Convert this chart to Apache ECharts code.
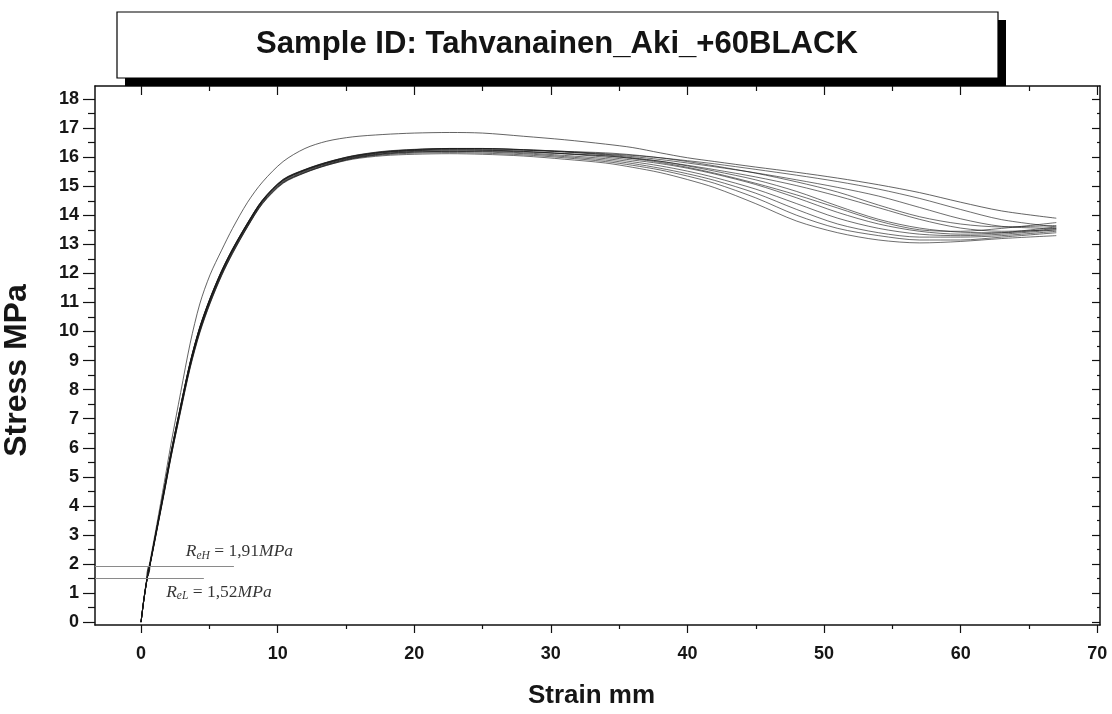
<!DOCTYPE html>
<html>
<head>
<meta charset="utf-8">
<script src="https://cdn.jsdelivr.net/npm/echarts@6/dist/echarts.min.js"></script>
<style>html,body{margin:0;padding:0;background:#fff;}#c{width:1112px;height:714px;}</style>
</head>
<body>
<div id="c"></div>
<script>
// ---- data ----
var TITLE = 'Sample ID: Tahvanainen_Aki_+60BLACK';
var X_LABEL = 'Strain mm';
var Y_LABEL = 'Stress MPa';
var xMajor = [0, 10, 20, 30, 40, 50, 60, 70];
var xMinor = [5, 15, 25, 35, 45, 55, 65];
var yMajor = [0,1,2,3,4,5,6,7,8,9,10,11,12,13,14,15,16,17,18];
var yMinor = [0.5,1.5,2.5,3.5,4.5,5.5,6.5,7.5,8.5,9.5,10.5,11.5,12.5,13.5,14.5,15.5,16.5,17.5];
var strain = [0, 0.2, 0.45, 0.65, 1.15, 1.7, 2.2, 2.9, 3.6, 4.3, 5.05, 5.9, 6.7, 7.8, 8.9, 10.4, 12, 13.6, 15.5,
              17.7, 20, 22.6, 25, 28, 31, 34, 36, 38, 40, 42, 45, 48, 51, 54, 57, 60, 63, 67];
var outer = [0,0.78,1.58,2.08,3.35,4.8,6.15,7.9,9.6,10.95,11.95,12.8,13.55,14.45,15.15,15.85,16.3,16.55,16.7,
             16.78,16.83,16.85,16.83,16.72,16.6,16.45,16.33,16.15,15.98,15.85,15.66,15.48,15.28,15.05,14.78,14.45,14.15,13.9];
var c1  = [0,0.76,1.53,2.0,3.24,4.6,5.86,7.46,8.96,10.16,11.15,12.1,12.85,13.74,14.54,15.24,15.58,15.83,16.05,
           16.2,16.27,16.3,16.3,16.26,16.2,16.12,16.06,15.98,15.88,15.77,15.58,15.38,15.16,14.9,14.58,14.2,13.85,13.6];
var c2  = [0,0.75,1.52,1.98,3.2,4.55,5.8,7.4,8.9,10.1,11.1,12.05,12.8,13.7,14.5,15.2,15.55,15.8,16.02,
           16.17,16.24,16.28,16.27,16.24,16.18,16.1,16.02,15.92,15.8,15.67,15.46,15.22,14.96,14.66,14.27,13.88,13.62,13.55];
var c3  = [0,0.74,1.5,1.95,3.15,4.48,5.72,7.3,8.8,10.0,11.0,11.96,12.72,13.62,14.43,15.13,15.48,15.74,15.97,
           16.12,16.2,16.22,16.22,16.18,16.12,16.04,15.96,15.86,15.72,15.57,15.32,15.02,14.66,14.26,13.86,13.56,13.45,13.5];
var c4  = [0,0.76,1.53,1.99,3.22,4.58,5.84,7.44,8.94,10.14,11.13,12.08,12.83,13.73,14.52,15.22,15.57,15.82,16.04,
           16.18,16.26,16.3,16.3,16.25,16.18,16.08,15.98,15.86,15.7,15.52,15.22,14.82,14.32,13.86,13.56,13.42,13.4,13.55];
var c5  = [0,0.75,1.51,1.97,3.18,4.52,5.76,7.35,8.85,10.05,11.06,12.01,12.77,13.67,14.47,15.17,15.52,15.78,16.0,
           16.15,16.22,16.25,16.24,16.2,16.12,16.0,15.9,15.78,15.62,15.42,15.06,14.6,14.1,13.7,13.45,13.35,13.4,13.6];
var c6  = [0,0.73,1.48,1.93,3.12,4.44,5.68,7.25,8.75,9.95,10.96,11.92,12.68,13.6,14.4,15.1,15.46,15.72,15.95,
           16.1,16.17,16.2,16.2,16.15,16.06,15.95,15.84,15.7,15.52,15.3,14.9,14.4,13.9,13.55,13.35,13.3,13.35,13.5];
var c7  = [0,0.75,1.52,1.98,3.2,4.56,5.82,7.42,8.92,10.12,11.11,12.06,12.81,13.71,14.5,15.2,15.54,15.78,15.99,
           16.12,16.18,16.2,16.18,16.12,16.02,15.9,15.78,15.62,15.43,15.2,14.76,14.2,13.7,13.4,13.25,13.25,13.3,13.45];
var c8  = [0,0.74,1.51,1.96,3.17,4.5,5.75,7.34,8.84,10.04,11.04,12.0,12.76,13.66,14.46,15.15,15.5,15.75,15.96,
           16.08,16.14,16.16,16.14,16.08,15.98,15.85,15.72,15.56,15.35,15.1,14.6,14.0,13.55,13.3,13.15,13.15,13.25,13.4];
var c9  = [0,0.74,1.5,1.95,3.14,4.47,5.7,7.28,8.78,9.98,10.98,11.94,12.7,13.62,14.42,15.12,15.47,15.72,15.93,
           16.05,16.1,16.12,16.1,16.04,15.93,15.8,15.65,15.47,15.23,14.95,14.4,13.8,13.4,13.15,13.05,13.1,13.2,13.3];
var c10 = [0,0.76,1.52,1.99,3.21,4.57,5.83,7.43,8.93,10.13,11.12,12.07,12.82,13.72,14.51,15.21,15.56,15.81,16.02,
           16.16,16.23,16.26,16.25,16.2,16.12,16.05,15.95,15.82,15.65,15.45,15.1,14.7,14.25,13.8,13.5,13.45,13.55,13.75];
var c11 = [0,0.76,1.53,1.99,3.23,4.59,5.85,7.45,8.95,10.15,11.14,12.09,12.84,13.74,14.53,15.23,15.57,15.82,16.04,
           16.19,16.26,16.3,16.3,16.26,16.2,16.15,16.08,15.98,15.85,15.7,15.45,15.15,14.8,14.35,13.95,13.7,13.6,13.65];
// small yield loop near the R_eH / R_eL lines
var loopStrain = [0.42, 0.5, 0.6, 0.64, 0.58, 0.48, 0.42];
var loopStress = [1.55, 1.6, 1.72, 1.88, 1.93, 1.8, 1.55];
var REH = 1.91, REL = 1.52;
var REH_END = 6.8, REL_END = 4.6;
var annoPos = [[7.2, 2.42], [5.7, 1.03]];
var annoText = [['eH', '1,91'], ['eL', '1,52']];

// ---- chart ----
var X_MIN = -3.37, X_MAX = 70.2, Y_MIN = -0.1, Y_MAX = 18.45;
var chart = echarts.init(document.getElementById('c'), null, {renderer: 'canvas'});
function xAx(pos, vals, len, inside, isMain) {
  return {
    type: 'value', position: pos, min: X_MIN, max: X_MAX, gridIndex: 0,
    axisLine: {show: !!isMain, onZero: false, lineStyle: {color: '#111', width: 1.5}},
    axisTick: {show: true, customValues: vals, length: len, inside: inside, lineStyle: {color: '#111', width: 1.2}},
    axisLabel: isMain && pos === 'bottom' ? {show: true, customValues: xMajor, margin: 20, fontSize: 18, fontWeight: 'bold', color: '#161616', fontFamily: 'Liberation Sans'} : {show: false},
    splitLine: {show: false},
    name: isMain && pos === 'bottom' ? X_LABEL : '',
    nameLocation: 'middle', nameGap: 58,
    nameTextStyle: {fontSize: 26, fontWeight: 'bold', color: '#161616', fontFamily: 'Liberation Sans', padding: [0, 12, 0, 0]}
  };
}
function yAx(pos, vals, len, inside, isMain) {
  return {
    type: 'value', position: pos, min: Y_MIN, max: Y_MAX, gridIndex: 0,
    axisLine: {show: !!isMain, onZero: false, lineStyle: {color: '#111', width: 1.5}},
    axisTick: {show: true, customValues: vals, length: len, inside: inside, lineStyle: {color: '#111', width: 1.2}},
    axisLabel: isMain && pos === 'left' ? {show: true, customValues: yMajor, margin: 16, fontSize: 18, fontWeight: 'bold', color: '#161616', fontFamily: 'Liberation Sans'} : {show: false},
    splitLine: {show: false},
    name: isMain && pos === 'left' ? Y_LABEL : '',
    nameLocation: 'middle', nameGap: 62, nameRotate: 90,
    nameTextStyle: {fontSize: 32, fontWeight: 'bold', color: '#161616', fontFamily: 'Liberation Sans', padding: [0, 30, 0, 0]}
  };
}
var curves = [c1, c2, c3, c4, c5, c6, c7, c8, c9, c10, c11];
function pairs(arr) { return strain.map(function (s, i) { return [s, arr[i]]; }); }
var series = [];
series.push({
  type: 'line', name: 'outer', data: pairs(outer), xAxisIndex: 0, yAxisIndex: 0,
  showSymbol: false, smooth: 0.3,
  lineStyle: {color: '#333', width: 0.9, opacity: 0.85}, silent: true, z: 3,
  markLine: {
    silent: true, symbol: 'none', label: {show: false},
    lineStyle: {color: '#8a8a8a', width: 1, type: 'solid'},
    data: [
      [{coord: [X_MIN, REH]}, {coord: [REH_END, REH]}],
      [{coord: [X_MIN, REL]}, {coord: [REL_END, REL]}]
    ]
  }
});
curves.forEach(function (c, k) {
  series.push({
    type: 'line', name: 'c' + (k + 1), data: pairs(c), xAxisIndex: 0, yAxisIndex: 0,
    showSymbol: false, smooth: 0.3,
    lineStyle: {color: '#151515', width: 1, opacity: 0.62}, silent: true, z: 3
  });
});
series.push({
  type: 'line', name: 'loop', xAxisIndex: 0, yAxisIndex: 0, showSymbol: false, smooth: 0.4, silent: true, z: 4,
  data: loopStrain.map(function (s, i) { return [s, loopStress[i]]; }),
  lineStyle: {color: '#222', width: 1}
});
series.push({
  type: 'scatter', name: 'anno', xAxisIndex: 0, yAxisIndex: 0, symbolSize: 0, silent: true,
  data: annoPos,
  label: {
    show: true, position: 'inside', color: '#000',
    formatter: function (p) {
      var t = annoText[p.dataIndex];
      return '{R|R}{s|' + t[0] + '}{n| = ' + t[1] + '}{R|MPa}';
    },
    rich: {
      R: {fontFamily: 'Liberation Serif', fontStyle: 'italic', fontSize: 17.5, color: '#000', lineHeight: 20},
      s: {fontFamily: 'Liberation Serif', fontStyle: 'italic', fontSize: 11.5, color: '#000', padding: [8, 0, 0, 0], lineHeight: 20},
      n: {fontFamily: 'Liberation Serif', fontSize: 17.5, color: '#000', lineHeight: 20}
    }
  }
});

chart.setOption({
  animation: false,
  backgroundColor: '#ffffff',
  grid: {left: 95, right: 12, top: 86, bottom: 89, containLabel: false, outerBoundsMode: 'none'},
  xAxis: [
    xAx('bottom', xMajor, 8, false, true),
    xAx('bottom', xMinor, 4, false, false),
    xAx('top', xMajor, 9, true, true),
    xAx('top', xMinor, 5, true, false)
  ],
  yAxis: [
    yAx('left', yMajor, 12, false, true),
    yAx('left', yMinor, 7, false, false),
    yAx('right', yMajor, 8, true, true),
    yAx('right', yMinor, 3, true, false)
  ],
  series: series,
  graphic: [
    {type: 'rect', z: 100, silent: true, shape: {x: 125, y: 20, width: 881, height: 66}, style: {fill: '#000'}},
    {type: 'rect', z: 101, silent: true, shape: {x: 117, y: 12, width: 881, height: 66}, style: {fill: '#fff', stroke: '#000', lineWidth: 1.2}},
    {type: 'text', z: 102, silent: true, x: 557, y: 45, scaleX: 1.02, style: {text: TITLE, font: 'bold 30.5px "Liberation Sans"', textAlign: 'center', textVerticalAlign: 'middle', fill: '#141414'}}
  ]
});
</script>
</body>
</html>
